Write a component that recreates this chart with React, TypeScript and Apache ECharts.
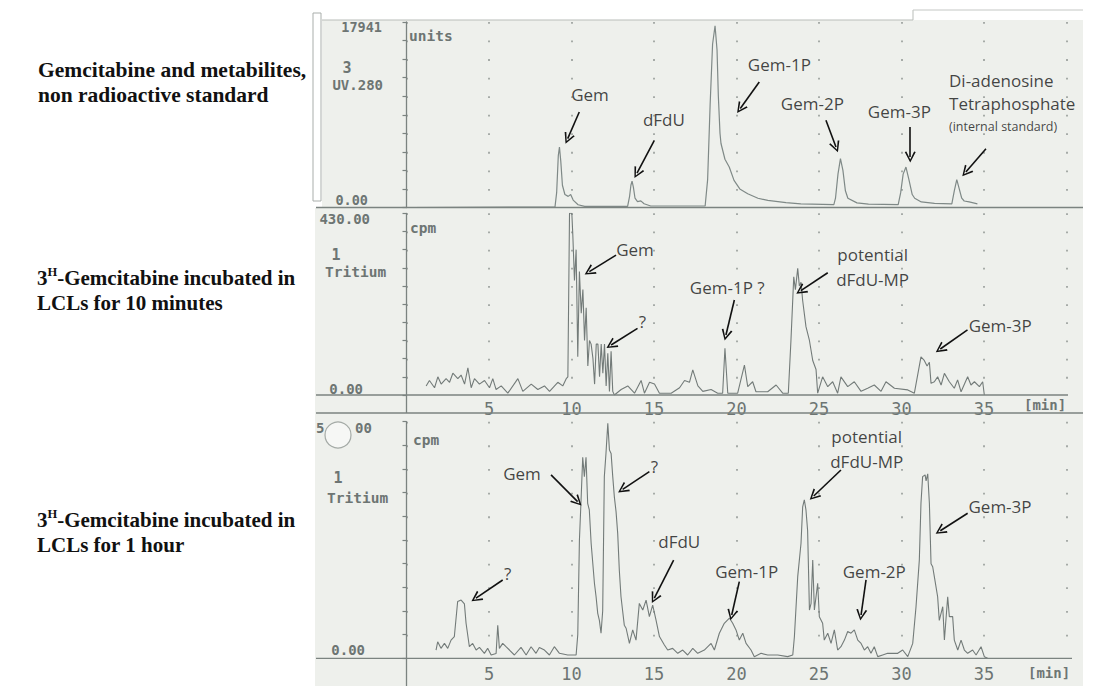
import React, { useEffect, useRef } from "react";
import * as echarts from "echarts";

// ---------- DATA (time in min, signal in % of full scale) ----------
const TOP_TRACE: number[][] = [
  [0.3, 0], [9.0, 0.3], [9.1, 8], [9.2, 28], [9.27, 32.6], [9.35, 25], [9.45, 12], [9.6, 7], [9.8, 6],
  [9.95, 7], [10.1, 4], [10.4, 1.5], [10.8, 0.6], [13.4, 0.6], [13.52, 6], [13.6, 12], [13.67, 14.2],
  [13.75, 11], [13.85, 5], [14.0, 3.2], [14.2, 3.6], [14.4, 2], [14.8, 0.8], [18.1, 0.8], [18.25, 15],
  [18.4, 55], [18.55, 88], [18.7, 98], [18.82, 85], [18.9, 60], [19.0, 40], [19.06, 34.5], [19.3, 26],
  [19.56, 21.8], [19.85, 14.6], [20.2, 10], [20.68, 7.4], [21.3, 5], [21.9, 3.8], [23, 2.6], [23.9, 2],
  [25.9, 1.5], [26.0, 5], [26.15, 18], [26.3, 26.3], [26.45, 20], [26.6, 9], [26.75, 5], [27.3, 2.5],
  [28, 1.8], [29.8, 1.5], [29.95, 8], [30.1, 18], [30.27, 21.8], [30.45, 15], [30.65, 7], [30.8, 5],
  [31.2, 3], [32, 2.2], [33.05, 2], [33.2, 9], [33.35, 15], [33.5, 10], [33.65, 5], [33.8, 3.5],
  [34.1, 3], [34.6, 2],
];

const MID_TRACE: number[][] = [
  [1.19, 5], [1.39, 8], [1.7, 4], [1.9, 10], [2.1, 6], [2.4, 9], [2.61, 7], [2.81, 12], [3.11, 9],
  [3.31, 11], [3.52, 6], [3.72, 15], [3.92, 4], [4.12, 9], [4.42, 6], [4.73, 8], [5.03, 4], [5.23, 9],
  [5.43, 3], [5.74, 5], [6.14, 1], [6.75, 9], [7.05, 2], [7.56, 6], [7.96, 3], [8.36, 5], [8.67, 2],
  [9.17, 7], [9.47, 5], [9.68, 9], [9.78, 10], [9.88, 100], [10.02, 100], [10.08, 88], [10.18, 63],
  [10.28, 80], [10.38, 21], [10.48, 68], [10.59, 45], [10.69, 58], [10.79, 30], [10.89, 48], [10.99, 16],
  [11.09, 30], [11.19, 28], [11.3, 20], [11.4, 6], [11.5, 28], [11.6, 28], [11.7, 10], [11.8, 28],
  [11.9, 12], [12.0, 28], [12.1, 5], [12.2, 23], [12.3, 2], [12.4, 24], [12.5, 2], [12.6, 0], [13.01, 3],
  [13.41, 5], [13.82, 1], [14.22, 8], [14.42, 1], [14.73, 7], [15.03, 6], [15.33, 1], [16.04, 1],
  [16.55, 4], [16.85, 8], [17.15, 7], [17.35, 13.8], [17.66, 5], [17.96, 2], [18.46, 3], [18.86, 1],
  [19.16, 1], [19.3, 25.7], [19.47, 1], [20.07, 1], [20.48, 16.5], [20.68, 4.6], [20.98, 7.3],
  [21.18, 1.8], [21.89, 1.8], [22.4, 5.5], [22.8, 1], [23.14, 1], [23.3, 30], [23.47, 65], [23.57, 58],
  [23.71, 69.7], [23.81, 60], [23.91, 62], [24.01, 52], [24.21, 37.6], [24.42, 30], [24.62, 19],
  [24.82, 14], [24.92, 1], [25.22, 10], [25.53, 4.6], [25.83, 7.3], [26.13, 1], [26.33, 10], [26.74, 4.6],
  [27.14, 7.3], [27.55, 2], [27.95, 3.7], [28.35, 5.5], [28.76, 2], [29.06, 7.3], [29.57, 3.7],
  [30.38, 2.8], [30.78, 1], [31.18, 21], [31.38, 19], [31.55, 16], [31.69, 18], [31.79, 6.4], [31.99, 7.3],
  [32.19, 10], [32.4, 5.5], [32.6, 11.9], [32.9, 7.3], [33.2, 3.7], [33.4, 8.3], [33.61, 1.8], [34.01, 10],
  [34.21, 5.5], [34.42, 7.3], [34.72, 4.6], [34.92, 7.3], [35.02, 0],
];

const BOT_TRACE: number[][] = [
  [1.79, 3.5], [1.89, 7], [2.09, 4.2], [2.3, 6.3], [2.5, 4.2], [2.7, 7.7], [2.9, 9.2], [3.1, 24],
  [3.31, 24.6], [3.51, 23], [3.61, 14.8], [3.81, 4.9], [4.01, 6.3], [4.22, 3.5], [4.42, 4.6], [4.72, 2.1],
  [4.92, 4.2], [5.13, 1.4], [5.43, 2], [5.53, 14], [5.63, 4.2], [5.83, 6.3], [6.03, 4.9], [6.24, 3.5],
  [6.54, 1.4], [6.94, 4.6], [7.25, 1.4], [7.55, 4.9], [7.85, 2.1], [8.05, 4.6], [8.36, 3.5], [8.66, 1.4],
  [8.96, 4.9], [9.27, 2.1], [9.77, 1.4], [10.28, 1.4], [10.38, 10], [10.48, 50], [10.58, 67], [10.68, 85],
  [10.78, 76.8], [10.88, 85], [10.98, 65.5], [11.08, 62.7], [11.19, 48.6], [11.39, 31.7], [11.49, 26],
  [11.59, 19], [11.69, 16], [11.79, 10.6], [11.89, 20], [11.99, 76.8], [12.09, 86.6], [12.2, 99.3],
  [12.3, 88], [12.4, 86.6], [12.5, 76.8], [12.6, 68], [12.7, 62], [12.8, 52.8], [12.9, 37], [13.0, 26],
  [13.1, 20], [13.2, 14], [13.31, 12.7], [13.51, 6.3], [13.71, 12], [13.91, 7.7], [14.11, 23.2],
  [14.32, 20.4], [14.52, 24.6], [14.72, 17.6], [14.92, 22.5], [15.12, 16.2], [15.33, 9.2], [15.63, 5.6],
  [15.83, 3.5], [16.13, 4.2], [16.44, 2.1], [16.74, 3.5], [17.04, 1.4], [17.35, 4.2], [17.65, 2.1],
  [18.05, 3.5], [18.46, 6.3], [18.66, 3.5], [18.96, 10.6], [19.26, 14.8], [19.57, 17], [19.77, 14.8],
  [19.97, 12], [20.17, 7.7], [20.38, 10.6], [20.58, 6.3], [20.88, 3.5], [21.08, 0.7], [21.49, 2.1],
  [21.89, 1.4], [22.5, 1.4], [23.1, 0.7], [23.41, 1.4], [23.51, 9.2], [23.71, 34.5], [23.91, 48.6],
  [24.01, 64], [24.11, 67], [24.21, 62.7], [24.31, 54], [24.42, 20.4], [24.52, 23.2], [24.62, 41.5],
  [24.72, 20.4], [24.82, 26], [24.92, 31.7], [25.02, 17.6], [25.22, 14.8], [25.32, 7.7], [25.53, 10.6],
  [25.73, 6.3], [25.93, 12], [26.13, 3.5], [26.33, 4.9], [26.54, 7.7], [26.74, 11.3], [26.94, 10.6],
  [27.14, 12], [27.35, 7.7], [27.55, 6.3], [27.75, 3.5], [27.95, 4.9], [28.15, 2.1], [28.35, 4.9],
  [28.56, 0.7], [28.86, 1.4], [29.16, 2.1], [29.77, 2.1], [30.07, 3.5], [30.38, 0.7], [30.68, 6.3],
  [30.88, 21.8], [31.08, 41.5], [31.18, 65.5], [31.28, 76.8], [31.43, 77.5], [31.49, 75], [31.59, 78],
  [31.69, 65.5], [31.79, 40], [31.89, 38.7], [31.99, 34.5], [32.19, 26], [32.29, 16], [32.5, 21.8],
  [32.6, 7.7], [32.8, 26], [32.9, 17.6], [33.1, 17.6], [33.2, 7.7], [33.41, 3.5], [33.61, 7.7],
  [33.81, 3.5], [34.01, 2.1], [34.31, 3.5], [34.52, 1.4], [34.82, 4.9], [35.02, 0.7], [35.22, 0],
];

const X_TICKS = [5, 10, 15, 20, 25, 30, 35];

// annotation labels [name, t, v]
const TOP_LABELS: [string, number, number][] = [
  ["Gem", 11.12, 61.1], ["dFdU", 15.6, 47.6], ["Gem-1P", 22.6, 77.3], ["Gem-2P", 24.6, 56.2], ["Gem-3P", 29.87, 51.5],
];
const TOP_STD_LABEL: [string, number, number] = ["Di-adenosine\nTetraphosphate\n{s|(internal standard)}", 32.88, 56.2];
const MID_LABELS: [string, number, number][] = [
  ["Gem", 13.85, 80.3], ["?", 14.3, 40.3], ["Gem-1P ?", 19.44, 59.3], ["potential\ndFdU-MP", 28.25, 70.2], ["Gem-3P", 35.98, 38.5],
];
const BOT_LABELS: [string, number, number][] = [
  ["Gem", 7.0, 78.2], ["?", 15.02, 81], ["dFdU", 16.53, 49.3], ["?", 6.13, 35.9], ["Gem-1P", 20.62, 36.6],
  ["Gem-2P", 28.35, 36.6], ["potential\ndFdU-MP", 27.89, 88.4], ["Gem-3P", 35.97, 64.1],
];
// arrows [[t1, v1], [t2, v2]] (tail -> head)
const TOP_ARROWS: number[][][] = [
  [[10.47, 51.5], [9.77, 37.1]], [[15.02, 36.2], [13.97, 18.5]], [[21.38, 67.7], [20.23, 53.4]],
  [[25.42, 47], [26.03, 32.6]], [[30.53, 43.4], [30.53, 27.2]], [[35.12, 31.7], [33.9, 19.1]],
];
const MID_ARROWS: number[][][] = [
  [[12.7, 77], [11.08, 67.9]], [[14.0, 36.7], [12.4, 27.5]], [[19.87, 52.3], [19.36, 33]],
  [[25.53, 67.3], [23.9, 57.4]], [[34.0, 35.8], [32.35, 25.3]],
];
const BOT_ARROWS: number[][][] = [
  [[8.76, 77.5], [10.37, 66.2]], [[14.72, 78.9], [13.1, 71.4]], [[16.19, 41.5], [15.02, 25.4]],
  [[5.83, 33.1], [4.21, 25.4]], [[20.17, 32.4], [19.71, 18.3]], [[27.85, 33.1], [27.55, 18.3]],
  [[26.33, 79.6], [24.68, 68.6]], [[34.01, 61.3], [32.35, 53.9]],
];

const ROW_TITLES = [
  "{n|Gemcitabine and metabilites,}\n{n|non radioactive standard}",
  "{n|3}{s|H}{n|-Gemcitabine incubated in}\n{n|LCLs for 10 minutes}",
  "{n|3}{s|H}{n|-Gemcitabine incubated in}\n{n|LCLs for 1 hour}",
];

// ---------- LAYOUT ----------
const GL = 406.5;
const GW = 660;
const PANELS = [
  { top: 22, height: 185.5 },
  { top: 213.3, height: 181.7 },
  { top: 421.7, height: 236.6 },
];
const MONO = "'DejaVu Sans Mono', monospace";
const INK = "#6d7573";
const TRACE = "#737b79";
const ANN_FONT = "'Open Sans', 'Noto Sans', sans-serif";
const ARROW_PATH = "path://M0,12 L6,0 L12,12 L10.2,12.6 L6,3.4 L1.8,12.6 Z";

function monoText(text: string, x: number, y: number, align: string, size = 14.5) {
  return {
    type: "text", x, y, z: 5, silent: true,
    style: { text, fill: INK, font: `bold ${size}px ${MONO}`, align, verticalAlign: "middle" },
  };
}
function hline(x1: number, x2: number, y: number, w = 1.3, c = "#7b8380") {
  return { type: "line", z: 4, silent: true, shape: { x1, y1: y, x2, y2: y }, style: { stroke: c, lineWidth: w } };
}
function vline(x: number, y1: number, y2: number, w = 1.3, c = "#7b8380") {
  return { type: "line", z: 4, silent: true, shape: { x1: x, y1, x2: x, y2 }, style: { stroke: c, lineWidth: w } };
}

function labelSeries(idx: number, labels: [string, number, number][]) {
  return {
    type: "scatter", xAxisIndex: idx, yAxisIndex: idx, symbolSize: 0, silent: true, z: 6,
    data: labels.map(([name, t, v]) => ({ name, value: [t, v] })),
    label: {
      show: true, position: "inside", formatter: "{b}", color: "#141414",
      fontFamily: ANN_FONT, fontSize: 17, lineHeight: 25,
    },
  };
}
function arrowSeries(idx: number, arrows: number[][][]) {
  return {
    type: "lines", coordinateSystem: "cartesian2d", xAxisIndex: idx, yAxisIndex: idx, silent: true, z: 6,
    symbol: ["none", ARROW_PATH], symbolSize: [11, 11],
    lineStyle: { color: "#111", width: 1.6, opacity: 1, curveness: 0 },
    data: arrows.map((c) => ({ coords: c })),
  };
}

export default function App() {
  const ref = useRef<HTMLDivElement>(null);
  useEffect(() => {
    if (!ref.current) return;
    const chart = echarts.init(ref.current, null, { renderer: "svg" });
    const spacing = PANELS.map((p) => p.height / 10);
    const option: any = {
      animation: false,
      backgroundColor: "#ffffff",
      grid: PANELS.map((p) => ({ left: GL, width: GW, top: p.top, height: p.height, containLabel: false })),
      xAxis: PANELS.map((p, i) => ({
        type: "value", gridIndex: i, min: 0, max: 40, interval: 5,
        axisLine: { show: false }, axisTick: { show: false },
        axisLabel: {
          show: i > 0, margin: i === 1 ? 5 : 7, color: INK, fontFamily: MONO, fontSize: 17,
          formatter: (v: number) => (X_TICKS.indexOf(v) >= 0 ? String(v) : ""),
        },
        splitLine: {
          show: true,
          lineStyle: { color: "#9ea4a0", width: 1.8, type: [1.8, spacing[i] - 1.8] },
        },
      })),
      yAxis: PANELS.map((p, i) => ({
        type: "value", gridIndex: i, min: 0, max: 100, interval: 10,
        axisLine: { show: true, lineStyle: { color: "#7b8380", width: 1.3 } },
        axisTick: { show: true, length: 4, lineStyle: { color: "#7b8380", width: 1.2 } },
        axisLabel: { show: false }, splitLine: { show: false },
      })),
      series: [
        { type: "line", xAxisIndex: 0, yAxisIndex: 0, data: TOP_TRACE, showSymbol: false, symbol: "none", z: 3,
          lineStyle: { color: "#7f8987", width: 1.2 }, silent: true },
        { type: "line", xAxisIndex: 1, yAxisIndex: 1, data: MID_TRACE, showSymbol: false, symbol: "none", z: 3,
          lineStyle: { color: TRACE, width: 1.1 }, silent: true },
        { type: "line", xAxisIndex: 2, yAxisIndex: 2, data: BOT_TRACE, showSymbol: false, symbol: "none", z: 3,
          lineStyle: { color: TRACE, width: 1.1 }, silent: true },
        labelSeries(0, TOP_LABELS),
        {
          type: "scatter", xAxisIndex: 0, yAxisIndex: 0, symbolSize: 0, silent: true, z: 6,
          data: [{ name: TOP_STD_LABEL[0], value: [TOP_STD_LABEL[1], TOP_STD_LABEL[2]] }],
          label: {
            show: true, position: "inside", align: "left", verticalAlign: "middle", formatter: "{b}",
            color: "#141414", fontFamily: ANN_FONT, fontSize: 17, lineHeight: 23,
            rich: { s: { fontSize: 12.5, lineHeight: 23, color: "#141414", fontFamily: ANN_FONT } },
          },
        },
        labelSeries(1, MID_LABELS),
        labelSeries(2, BOT_LABELS),
        arrowSeries(0, TOP_ARROWS),
        arrowSeries(1, MID_ARROWS),
        arrowSeries(2, BOT_ARROWS),
      ],
      graphic: [
        // scanned paper background
        { type: "rect", z: -100, silent: true, shape: { x: 322, y: 20, width: 761, height: 193 }, style: { fill: "#eef0ec" } },
        { type: "rect", z: -100, silent: true, shape: { x: 315, y: 208, width: 768, height: 478 }, style: { fill: "#eef0ec" } },
        { type: "rect", z: -99, silent: true, shape: { x: 313, y: 13, width: 8, height: 188 }, style: { fill: "#ffffff", stroke: "#a9aeab", lineWidth: 1 } },
        hline(322, 913, 20, 1, "#b9bdb9"),
        vline(913, 10, 20, 1, "#b9bdb9"),
        hline(913, 1083, 10, 1, "#c4c7c4"),
        // long rules
        hline(316, 1083, 207.5),
        hline(316, 1068, 395),
        hline(316, 1083, 413),
        hline(316, 1072, 658.3),
        vline(GL, 395, 413),
        vline(GL, 658.3, 686),
        // left scale texts
        monoText("17941", 382, 27, "right", 13.5),
        monoText("3", 347, 68, "center", 15),
        monoText("UV.280", 383, 85, "right", 14),
        monoText("units", 409, 36, "left", 14.5),
        monoText("0.00", 368, 200, "right", 13.5),
        monoText("430.00", 370, 219, "right", 14),
        monoText("cpm", 410, 228, "left", 14.5),
        monoText("1", 336, 255, "center", 15),
        monoText("Tritium", 325, 272, "left", 14.5),
        monoText("0.00", 363, 389, "right", 14),
        monoText("5", 316, 428, "left", 14),
        monoText("00", 355, 428, "left", 14),
        { type: "circle", z: 6, silent: true, shape: { cx: 338, cy: 435, r: 13 }, style: { fill: "#f6f7f5", stroke: "#a4aaa6", lineWidth: 1.2 } },
        monoText("cpm", 413, 440, "left", 14.5),
        monoText("1", 338, 478, "center", 15),
        monoText("Tritium", 327, 498, "left", 14.5),
        monoText("0.00", 365, 650, "right", 14),
        monoText("[min]", 1024, 405, "left", 14),
        monoText("[min]", 1028, 673, "left", 14),
        // row titles
        ...ROW_TITLES.map((t, i) => ({
          type: "text", silent: true, z: 5,
          x: i === 0 ? 38 : 37, y: [82.5, 290.5, 532.5][i],
          style: {
            text: t, align: "left", verticalAlign: "middle",
            rich: {
              n: { fontFamily: "'Liberation Serif', serif", fontWeight: "bold", fontSize: i === 0 ? 21.5 : 21, lineHeight: 25, fill: "#111" },
              s: { fontFamily: "'Liberation Serif', serif", fontWeight: "bold", fontSize: 12.5, lineHeight: 25, verticalAlign: "top", fill: "#111" },
            },
          },
        })),
      ],
    };
    chart.setOption(option);
    return () => chart.dispose();
  }, []);
  return <div ref={ref} style={{ position: "fixed", left: 0, top: 0, width: 1114, height: 686 }} />;
}
